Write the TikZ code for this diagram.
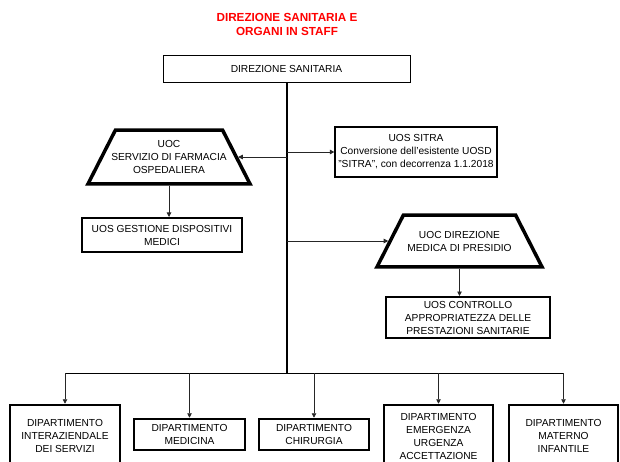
\documentclass[tikz,border=0pt]{standalone}
\usepackage{fontspec}
\setmainfont{Liberation Sans}
\usetikzlibrary{shapes.geometric,arrows.meta,positioning}

\tikzset{
  unit/.style={draw,rectangle,line width=#1},
  unit/.default=2pt,
  uoc/.style={draw,trapezium,trapezium angle=63,trapezium stretches body,line width=3.5pt},
  link/.style={draw=black!85,line width=0.9pt,-{Triangle[length=4.5pt,width=4.5pt]}},
  trunk/.style={line width=2pt}
}

\begin{document}
\begin{tikzpicture}[x=1pt,y=-1pt,every node/.style={font=\fontsize{10.2}{13}\selectfont,align=center,inner sep=0pt}]
  \useasboundingbox (0,0) rectangle (620,462);
  \clip (0,0) rectangle (620,462);
  %title
  \node[font=\fontsize{11.7}{14}\selectfont\bfseries,text=red] (title) at (287,24) {DIREZIONE SANITARIA E\\ORGANI IN STAFF};
  \node[unit=0.8pt,minimum width=247pt,minimum height=27pt] (ds) at (286.5,68.5) {DIREZIONE SANITARIA};
  %staff
  \node[uoc,inner ysep=10.3pt,inner xsep=-4.5pt,minimum width=162pt] (farm) at (169,157) {UOC\\SERVIZIO DI FARMACIA\\OSPEDALIERA};
  \node[unit,minimum width=160pt,minimum height=34pt] (gest) at (162,235) {UOS GESTIONE DISPOSITIVI\\MEDICI};
  \node[unit=1.3pt,minimum width=162pt,minimum height=50pt] (sitra) at (416,152) {UOS SITRA\\Conversione dell'esistente UOSD\\"SITRA", con decorrenza 1.1.2018};
  \node[uoc,inner ysep=15.8pt,minimum width=165pt] (medica) at (459.5,241) {UOC DIREZIONE\\MEDICA DI PRESIDIO};
  \node[unit,minimum width=164pt,minimum height=41pt] (ctrl) at (468,317.5) {UOS CONTROLLO\\APPROPRIATEZZA DELLE\\PRESTAZIONI SANITARIE};
  %dipartimenti
  \node[unit=2.5pt,minimum width=110pt,minimum height=61pt] (d1) at (65,435.5) {DIPARTIMENTO\\INTERAZIENDALE\\DEI SERVIZI};
  \node[unit=2.5pt,minimum width=111pt,minimum height=31pt] (d2) at (189.5,434.5) {DIPARTIMENTO\\MEDICINA};
  \node[unit=2.5pt,minimum width=110pt,minimum height=31pt] (d3) at (314,434.5) {DIPARTIMENTO\\CHIRURGIA};
  \node[unit=2.5pt,minimum width=109pt,minimum height=63pt] (d4) at (438.5,436.5) {DIPARTIMENTO\\EMERGENZA\\URGENZA\\ACCETTAZIONE};
  \node[unit=2.5pt,minimum width=109pt,minimum height=61pt] (d5) at (563.5,435.5) {DIPARTIMENTO\\MATERNO\\INFANTILE};
  \coordinate (bus) at (286.5,373);
  %connectors
  \draw[trunk] (ds.south) -- (ds.south |- bus);
  \draw[link] (ds.south |- sitra.west) -- (sitra.west);
  \draw[link] (ds.south |- farm.east) -- (farm.east);
  \draw[link] (ds.south |- medica.west) -- (medica.west);
  \draw[link] (farm.south) -- (farm.south |- gest.north);
  \draw[link] (medica.south) -- (medica.south |- ctrl.north);
  \draw[line width=0.9pt] (d1.north |- bus) -- (d5.north |- bus);
  \foreach \d in {d1,d2,d3,d4,d5}
    \draw[link] (\d.north |- bus) -- (\d.north);
\end{tikzpicture}
\end{document}
